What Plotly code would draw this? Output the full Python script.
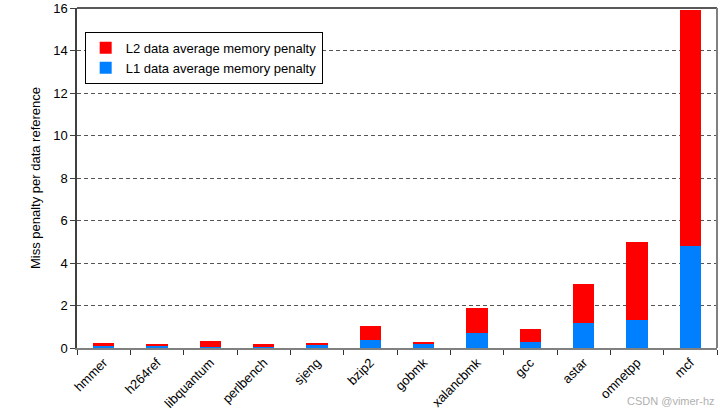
import plotly.graph_objects as go

benchmarks = ["hmmer", "h264ref", "libquantum", "perlbench", "sjeng", "bzip2",
              "gobmk", "xalancbmk", "gcc", "astar", "omnetpp", "mcf"]
l1_penalty = [0.08, 0.12, 0.03, 0.09, 0.12, 0.37, 0.17, 0.71, 0.29, 1.18, 1.32, 4.8]
l2_penalty = [0.15, 0.06, 0.29, 0.09, 0.11, 0.66, 0.11, 1.16, 0.59, 1.82, 3.68, 11.1]
y_ticks = [0, 2, 4, 6, 8, 10, 12, 14, 16]

fig = go.Figure()
fig.add_trace(go.Bar(x=benchmarks, y=l1_penalty, name="L1 data average memory penalty",
                     marker=dict(color="#0080FF", line=dict(width=0)), width=0.4))
fig.add_trace(go.Bar(x=benchmarks, y=l2_penalty, name="L2 data average memory penalty",
                     marker=dict(color="#FF0000", line=dict(width=0)), width=0.4))

fig.update_layout(
    barmode="stack",
    width=727, height=415,
    margin=dict(l=77, r=10, t=8, b=67),
    plot_bgcolor="white", paper_bgcolor="white",
    font=dict(family="Liberation Sans, Arial, sans-serif", size=13, color="black"),
    legend=dict(x=0.012, y=0.93, xanchor="left", yanchor="top",
                traceorder="reversed", bordercolor="black", borderwidth=1,
                bgcolor="white", font=dict(size=13), itemwidth=30,
                tracegroupgap=0),
    xaxis=dict(type="category", tickangle=-45, tickson="boundaries",
               ticks="outside", ticklen=5, tickcolor="#333",
               showline=True, linecolor="#808080", linewidth=2,
               mirror=False, showgrid=False, tickfont=dict(size=13),
               automargin=False),
    yaxis=dict(range=[0, 16], tickvals=y_ticks, ticks="outside", ticklen=5,
               tickcolor="#404040", showline=True, linecolor="#404040", linewidth=1.5,
               showgrid=True, gridcolor="#555", griddash="4px,3px", gridwidth=1,
               zeroline=False, tickfont=dict(size=13), automargin=False,
               title=dict(text="Miss penalty per data reference", font=dict(size=13),
                          standoff=10)),
    showlegend=True,
)

# top and right frame lines
fig.add_shape(type="line", xref="paper", yref="paper", x0=0, x1=1, y0=1, y1=1,
              line=dict(color="#222", width=1.5))
fig.add_shape(type="line", xref="paper", yref="paper", x0=1, x1=1, y0=0, y1=1,
              line=dict(color="#808080", width=2))

fig.add_annotation(text="CSDN @vimer-hz", xref="paper", yref="paper",
                   x=1.0, y=-0.155, xanchor="right", yanchor="middle",
                   showarrow=False, font=dict(size=11, color="#b0b0b0"))

fig.write_html("out.html", config={"displayModeBar": False},
               post_script="document.body.style.margin='0';document.body.style.overflow='hidden';")
